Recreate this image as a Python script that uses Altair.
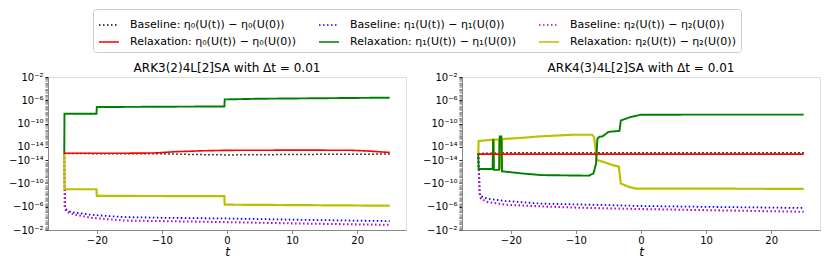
import altair as alt
import pandas as pd

# ---------------- data ----------------
# Left panel: ARK3(2)4L[2]SA
L_B0_T = [-25, -20, -10, -5, 0, 5, 15, 25]
L_B0_V = [0, -5e-17, -1e-16, -4e-16, -6e-16, -5e-16, -3e-16, -2e-16]
L_B1_T = [-25, -24.85, -24, -20.9, -15.8, -10, 0, 10, 25]
L_B1_V = [0, -2.3e-6, -8.5e-6, -2.5e-5, -6.2e-5, -8.1e-5, -1.07e-4, -1.7e-4, -3e-4]
L_B2_T = [-25, -24.93, -24.5, -23.5, -20.9, -15.8, -10, 0, 10, 20, 25]
L_B2_V = [0, -2.3e-6, -8.5e-6, -2.2e-5, -8.1e-5, -2.4e-4, -3e-4, -4.5e-4, -7.3e-4, -1.1e-3, -1.3e-3]
L_R0_T = [-25, -15, -11, -8, -4, 0, 10, 19, 22, 25]
L_R0_V = [1e-16, 1e-16, 2e-16, 8e-16, 1.5e-15, 2e-15, 2.2e-15, 2.1e-15, 1.2e-15, 4e-16]
L_R1_T = [-25, -24.97, -20.05, -20, -0.4, -0.35, 5, 25]
L_R1_V = [0, 5.1e-9, 5.1e-9, 7.2e-8, 9.1e-8, 1.45e-6, 1.9e-6, 2.9e-6]
L_R2_T = [-25, -24.97, -20.05, -20, -0.4, -0.35, 25]
L_R2_V = [0, -1.05e-9, -1.05e-9, -1.45e-8, -1.6e-8, -4.6e-7, -6.9e-7]

# Right panel: ARK4(3)4L[2]SA
R_B0_T = [-25, -20, -10, 0, 10, 20, 25]
R_B0_V = [0, 3e-16, 2.5e-16, 3e-16, 3e-16, 2.5e-16, 3e-16]
R_B1_T = [-25, -24.75, -23.6, -20.9, -15.3, -9.8, 0, 10, 25]
R_B1_V = [0, -1.45e-8, -4.3e-8, -1.05e-7, -3.1e-7, -4.1e-7, -7.7e-7, -1.1e-6, -1.7e-6]
R_B2_T = [-25, -24.8, -24.6, -23.6, -20.9, -15.3, -9.8, 0, 10, 25]
R_B2_V = [0, -5.8e-9, -4.3e-8, -1.6e-7, -4.6e-7, -9e-7, -1.5e-6, -2.6e-6, -4e-6, -7.6e-6]
R_R0_T = [-25, -15, 0, 15, 25]
R_R0_V = [-2e-16, -2.5e-16, -2e-16, -2.5e-16, -2e-16]
R_R1_T = [-25, -24.95, -22.8, -22.7, -22.6, -21.8, -21.7, -21.45, -21.35, -20.9, -18.4,
          -15.3, -8, -7.3, -6.9, -6.7, -6.4, -5.9, -5.0, -3.3, -3.1, -1.6, 0, 10, 25]
R_R1_V = [0, -3.6e-13, -3.6e-13, 2.6e-13, -5e-13, -5e-13, 6.6e-13, 6.6e-13, -9e-13, -1e-12, -2e-12,
          -4e-12, -5e-12, -2e-12, -4e-14, 2.6e-13, 5.9e-13, 7e-13, 4e-12, 6e-12, 3.6e-10, 1.4e-9, 3.5e-9, 3.6e-9, 3.6e-9]
R_R2_T = [-25, -24.95, -23, -22.75, -22.7, -22.6, -21.8, -21.7, -21.45, -21.35, -20.8, -18.2,
          -15.7, -10.6, -7.5, -7.2, -6.8, -6.2, -4.4, -3.4, -3.1, -1.9, -0.85, 25]
R_R2_V = [0, 1.07e-13, 1.8e-13, 1.8e-13, -2.7e-13, 1.8e-13, 2e-13, -2.7e-13, -2.7e-13, 2.2e-13, 2.6e-13, 3.9e-13,
          6.6e-13, 1.3e-12, 1.3e-12, 5.2e-13, -1e-14, -1.5e-14, -7.3e-14, -1.4e-13, -1.1e-10, -4e-10, -8e-10, -9e-10]

SERIES_KEYS = ["B0", "R0", "B1", "R1", "B2", "R2"]
SERIES_LABELS = [
    "Baseline: η₀(U(t)) − η₀(U(0))",
    "Relaxation: η₀(U(t)) − η₀(U(0))",
    "Baseline: η₁(U(t)) − η₁(U(0))",
    "Relaxation: η₁(U(t)) − η₁(U(0))",
    "Baseline: η₂(U(t)) − η₂(U(0))",
    "Relaxation: η₂(U(t)) − η₂(U(0))",
]
SERIES_COLORS = ["#000000", "#ff0000", "#0000ff", "#008000", "#bf00bf", "#bfbf00"]
SERIES_DASH = [[1.5, 2.5], [1, 0], [1.5, 2.5], [1, 0], [1.5, 2.5], [1, 0]]
SERIES_WIDTH = [1.5, 2.2, 1.3, 1.2, 1.3, 1.2]

PANEL_TITLES = ["ARK3(2)4L[2]SA with Δt = 0.01", "ARK4(3)4L[2]SA with Δt = 0.01"]

MAJOR_Y = [1e-2, 1e-6, 1e-10, 1e-14, -1e-14, -1e-10, -1e-6, -1e-2]
MAJOR_Y_LABELS = ["10⁻²", "10⁻⁶", "10⁻¹⁰", "10⁻¹⁴", "−10⁻¹⁴", "−10⁻¹⁰", "−10⁻⁶", "−10⁻²"]
X_TICKS = [-20, -10, 0, 10, 20]

# ---------------- table ----------------
panel_data = {
    "L": {"B0": (L_B0_T, L_B0_V), "B1": (L_B1_T, L_B1_V), "B2": (L_B2_T, L_B2_V),
          "R0": (L_R0_T, L_R0_V), "R1": (L_R1_T, L_R1_V), "R2": (L_R2_T, L_R2_V)},
    "R": {"B0": (R_B0_T, R_B0_V), "B1": (R_B1_T, R_B1_V), "B2": (R_B2_T, R_B2_V),
          "R0": (R_R0_T, R_R0_V), "R1": (R_R1_T, R_R1_V), "R2": (R_R2_T, R_R2_V)},
}
rows = []
draw_order = ["B1", "B2", "B0", "R2", "R1", "R0"]
for p, d in panel_data.items():
    for k in draw_order:
        ts, vs = d[k]
        lab = SERIES_LABELS[SERIES_KEYS.index(k)]
        for j, (t, v) in enumerate(zip(ts, vs)):
            rows.append({"panel": p, "key": k, "series": lab, "t": t, "v": v, "ord": j})
df = pd.DataFrame(rows)

# minor y ticks (matplotlib symlog style)
minor = []
for e in range(-14, -2):
    for k in range(1, 10):
        val = k * 10.0 ** e
        if val < 1e-2:
            minor += [val, -val]
all_y = MAJOR_Y + [m for m in minor if all(abs(m - M) > abs(M) * 1e-9 for M in MAJOR_Y)]

maj_arr = "[" + ",".join(repr(v) for v in MAJOR_Y) + "]"
is_major = f"indexof({maj_arr}, datum.value) >= 0"
label_expr = ""
for v, lab in zip(MAJOR_Y, MAJOR_Y_LABELS):
    label_expr += f"datum.value == {repr(v)} ? '{lab}' : "
label_expr += "''"

FONT = "DejaVu Sans"


def panel(pkey, title):
    base = alt.Chart(df).transform_filter(alt.datum.panel == pkey)
    line = base.mark_line(clip=True).encode(
        x=alt.X("t:Q", scale=alt.Scale(domain=[-27.5, 27.5], nice=False, zero=False),
                axis=alt.Axis(values=X_TICKS, title="t", titleFontStyle="italic", grid=False,
                              titleFontWeight="normal", titleFontSize=12, titleFont=FONT,
                              titlePadding=1, tickSize=3.5, labelPadding=2)),
        y=alt.Y("v:Q", scale=alt.Scale(type="symlog", constant=8e-16, domain=[-1e-2, 1e-2],
                                       nice=False, zero=False),
                axis=alt.Axis(values=all_y, title=None, labelExpr=label_expr, grid=False,
                              labelOverlap=False, labelPadding=2, tickSize=3,
                              tickColor={"condition": {"test": is_major, "value": "#000000"}, "value": "#8a8a8a"},
                              tickWidth={"condition": {"test": is_major, "value": 0.9}, "value": 0.6})),
        color=alt.Color("series:N", scale=alt.Scale(domain=SERIES_LABELS, range=SERIES_COLORS),
                        legend=alt.Legend(title=None, orient="none", legendX=45, legendY=-68,
                                          columns=3, symbolType="M-1,0H1", symbolSize=400,
                                          symbolStrokeWidth=1.5, labelFontSize=11, labelFont=FONT,
                                          labelLimit=0, fillColor="white", strokeColor="#cccccc",
                                          padding=5, cornerRadius=3, rowPadding=1,
                                          columnPadding=20, labelOffset=10)),
        strokeDash=alt.StrokeDash("series:N", scale=alt.Scale(domain=SERIES_LABELS, range=SERIES_DASH),
                                  legend=None),
        strokeWidth=alt.StrokeWidth("key:N", scale=alt.Scale(domain=SERIES_KEYS, range=SERIES_WIDTH),
                                    legend=None),
        order="ord:Q",
        detail="key:N",
    )
    return line.properties(
        width=358, height=153,
        title=alt.TitleParams(title, fontSize=12, font=FONT, fontWeight="normal", offset=-3),
    )


chart = alt.hconcat(panel("L", PANEL_TITLES[0]), panel("R", PANEL_TITLES[1]), spacing=15).resolve_scale(
    color="shared", strokeDash="shared", strokeWidth="shared").properties(
    padding={"left": 0, "top": 0, "right": 0, "bottom": 0}
).configure_view(stroke="#000000", strokeWidth=1).configure_axis(
    grid=False, domainColor="#000000", labelColor="#000000", labelFont=FONT, labelFontSize=11,
).configure(font=FONT)

chart.save("out.html", embed_options={"renderer": "svg", "actions": False})
